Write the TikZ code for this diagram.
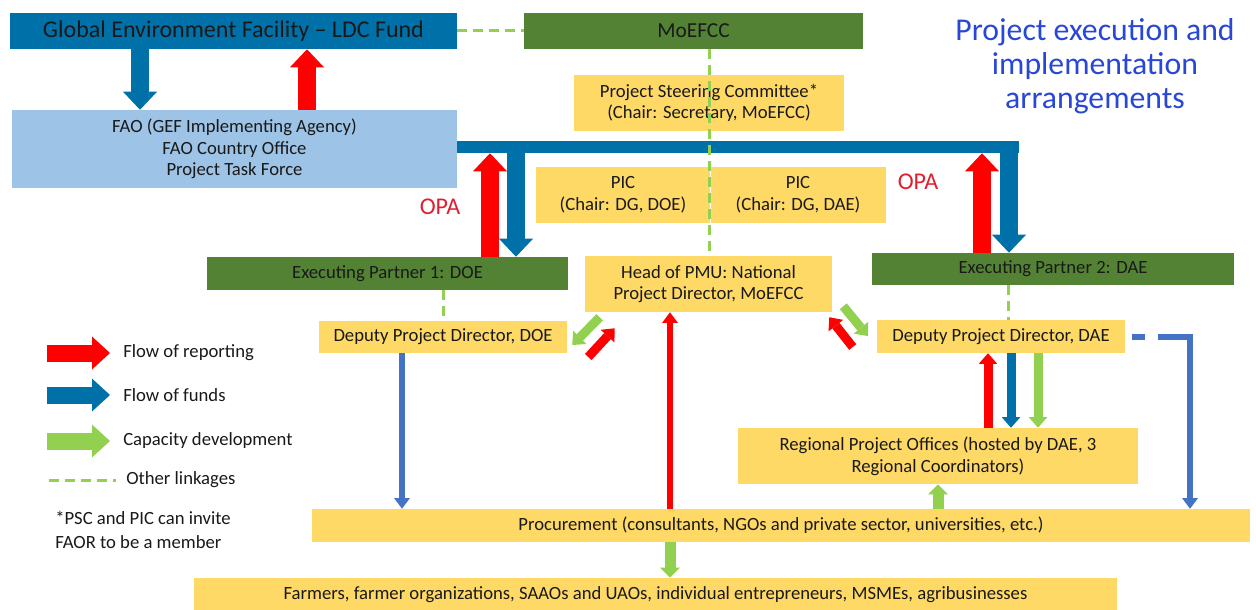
\documentclass[tikz,border=0pt]{standalone}
\usepackage{fontspec}
\setmainfont{Carlito}
\usetikzlibrary{arrows.meta, positioning}

\definecolor{gefblue}{RGB}{0,112,168}
\definecolor{moegreen}{RGB}{84,130,53}
\definecolor{faoblue}{RGB}{157,195,230}
\definecolor{pmuyellow}{RGB}{255,217,102}
\definecolor{repred}{RGB}{255,0,0}
\definecolor{capgreen}{RGB}{146,208,80}
\definecolor{lineblue}{RGB}{68,114,196}
\definecolor{titleblue}{RGB}{40,70,215}
\definecolor{opared}{RGB}{225,30,45}

\begin{document}
\begin{tikzpicture}[
    x=0.75pt, y=-0.75pt,
    dims/.style 2 args={minimum width=#1*0.75pt, minimum height=#2*0.75pt},
    box/.style={rectangle, inner sep=0pt, align=center, text=black!90, font=\fontsize{14}{16.3}\selectfont},
    topbox/.style={box, fill=gefblue, font=\fontsize{18}{20}\selectfont},
    greenbox/.style={box, fill=moegreen},
    faobox/.style={box, fill=faoblue},
    yellowbox/.style={box, fill=pmuyellow},
    legtext/.style={inner sep=0pt, anchor=west, text=black!90, font=\fontsize{14}{16}\selectfont},
    opa/.style={inner sep=0pt, text=opared, font=\fontsize{18}{20}\selectfont},
    fat/.style={line width=13.5pt, -{Triangle[length=13.5pt, width=25.5pt, line width=0pt]}},
    legarrow/.style={line width=12.75pt, -{Triangle[length=13.5pt, width=24.75pt, line width=0pt]}},
    wide/.style={line width=8.25pt, -{Triangle[length=7.5pt, width=15pt, line width=0pt]}},
    mid/.style={line width=6.75pt, -{Triangle[length=8pt, width=14pt, line width=0pt]}},
    slim/.style={line width=4.5pt, -{Triangle[length=8pt, width=12pt, line width=0pt]}},
    linkage/.style={capgreen, line width=2.25pt, dash pattern=on 7.5pt off 4.5pt}
]
    \useasboundingbox (0,0) rectangle (1256,610);

    % GEF and FAO
    \node[topbox, dims={447}{36}] (gef) at (233.5,31) {Global Environment Facility -- LDC Fund};
    \node[greenbox, dims={339}{36}, font=\fontsize{16}{18}\selectfont] (moefcc) at (693.5,31) {MoEFCC};
    \node[faobox, dims={445}{78}] (fao) at (234.5,149) {FAO (GEF Implementing Agency)\\FAO Country Office\\Project Task Force};
    \node[fill=gefblue, inner sep=0pt, dims={562}{12}] (bar) at (738,147) {};

    % Title
    \node[text=titleblue, align=center, font=\fontsize{23.8}{25.5}\selectfont] (title) at (1095,66) {Project execution and\\implementation\\arrangements};

    % Committees
    \node[yellowbox, dims={270}{56}] (psc) at (709,103) {Project Steering Committee*\\(Chair: Secretary, MoEFCC)};
    \node[yellowbox, dims={174}{56}] (picdoe) at (623,195) {PIC\\(Chair: DG, DOE)};
    \node[yellowbox, dims={175}{56}, right=0pt of picdoe] (picdae) {PIC\\(Chair: DG, DAE)};

    % Executing partners
    \node[greenbox, dims={361}{33}] (ep1) at (387.5,273.5) {Executing Partner 1: DOE};
    \node[greenbox, dims={362}{32}] (ep2) at (1053,269) {Executing Partner 2: DAE};
    \node[yellowbox, dims={247}{56}] (pmu) at (708.5,284) {Head of PMU: National\\Project Director, MoEFCC};
    \node[yellowbox, dims={248}{32}] (dpddoe) at (443,337) {Deputy Project Director, DOE};
    \node[yellowbox, dims={248}{33}] (dpddae) at (1001,336.5) {Deputy Project Director, DAE};

    % Field level
    \node[yellowbox, dims={400}{56}] (rpo) at (938,456) {Regional Project Offices (hosted by DAE, 3\\Regional Coordinators)};
    \node[yellowbox, dims={938}{33}] (proc) at (781,525.5) {Procurement (consultants, NGOs and private sector, universities, etc.)};
    \node[yellowbox, dims={923}{34}] (farm) at (655.5,595) {Farmers, farmer organizations, SAAOs and UAOs, individual entrepreneurs, MSMEs, agribusinesses};

    % OPA labels
    \node[opa] (opa1) at (440,207) {OPA};
    \node[opa] (opa2) at (918,182) {OPA};

    % Legend
    \node[legtext] (lrep) at (123,353) {Flow of reporting};
    \node[legtext] (lfund) at (123,395) {Flow of funds};
    \node[legtext] (lcap) at (123,441) {Capacity development};
    \node[legtext] (lother) at (126,480) {Other linkages};
    \node[legtext, align=left, font=\fontsize{14}{18}\selectfont] (note) at (55,530) {*PSC and PIC can invite\\FAOR to be a member};
    \draw[legarrow, repred] ([shift={(-76,0)}]lrep.west) -- ([shift={(-13,0)}]lrep.west);
    \draw[legarrow, gefblue] ([shift={(-76,0)}]lfund.west) -- ([shift={(-13,0)}]lfund.west);
    \draw[legarrow, capgreen] ([shift={(-76,0)}]lcap.west) -- ([shift={(-13,0)}]lcap.west);
    \draw[linkage] ([shift={(-77,0)}]lother.west) -- ([shift={(-10,0)}]lother.west);

    % Other linkages
    \draw[linkage] (gef.east) -- (moefcc.west);
    \draw[linkage] (psc |- moefcc.south) -- (psc |- pmu.north);
    \draw[linkage] (dpddoe.north |- ep1.south) -- (dpddoe.north);
    \draw[linkage] ([shift={(7,0)}]dpddae.north |- ep2.south) -- ([shift={(7,0)}]dpddae.north);

    % Funds and reporting
    \draw[fat, gefblue] ([shift={(-93.5,0)}]gef.south) -- ([shift={(-93.5,0)}]gef.south |- fao.north);
    \draw[fat, repred] ([shift={(73.5,0)}]gef.south |- fao.north) -- ([shift={(73.5,0)}]gef.south);
    \draw[fat, repred] ([shift={(102.5,0)}]ep1.north) -- ([shift={(102.5,0)}]ep1.north |- bar.south);
    \draw[fat, gefblue] ([shift={(128.5,0)}]ep1.north |- bar.south) -- ([shift={(128.5,0)}]ep1.north);
    \draw[fat, repred] ([shift={(-71,0)}]ep2.north) -- ([shift={(-71,0)}]ep2.north |- bar.south);
    \draw[fat, gefblue] ([shift={(-44,0)}]ep2.north |- bar.south) -- ([shift={(-44,0)}]ep2.north);

    % PMU and deputies
    \draw[mid, capgreen] ([shift={(15,5)}]pmu.south west) -- ([shift={(5,8)}]dpddoe.east);
    \draw[mid, repred] ([shift={(21,20)}]dpddoe.east) -- ([shift={(30,16)}]pmu.south west);
    \draw[mid, repred] ([shift={(-24,10.5)}]dpddae.west) -- ([shift={(-3,5)}]pmu.south east);
    \draw[mid, capgreen] ([shift={(11,-6)}]pmu.south east) -- ([shift={(-9,-0.5)}]dpddae.west);

    % Regional offices
    \draw[mid, repred] ([shift={(-13,0)}]dpddae.south |- rpo.north) -- ([shift={(-13,0)}]dpddae.south);
    \draw[mid, gefblue] ([shift={(10,0)}]dpddae.south) -- ([shift={(10,0)}]dpddae.south |- rpo.north);
    \draw[mid, capgreen] ([shift={(37,0)}]dpddae.south) -- ([shift={(37,0)}]dpddae.south |- rpo.north);

    % Procurement
    \coordinate (bend) at (1190,336.5);
    \draw[slim, lineblue] ([shift={(-41,0)}]dpddoe.south) -- ([shift={(-41,0)}]dpddoe.south |- proc.north);
    \draw[slim, repred] ([shift={(-38.5,0)}]pmu.south |- proc.north) -- ([shift={(-38.5,0)}]pmu.south);
    \draw[lineblue, line width=4.5pt, dash pattern=on 0pt off 5.25pt on 9.75pt off 9.75pt on 40pt off 0pt] (dpddae.east) -- (bend);
    \draw[slim, lineblue] ([shift={(0,-2.25)}]bend) -- (bend |- proc.north);
    \draw[wide, capgreen] (rpo |- proc.north) -- (rpo.south);
    \draw[wide, capgreen] ([shift={(-38.5,0)}]pmu.south |- proc.south) -- ([shift={(-38.5,0)}]pmu.south |- farm.north);

\end{tikzpicture}
\end{document}
